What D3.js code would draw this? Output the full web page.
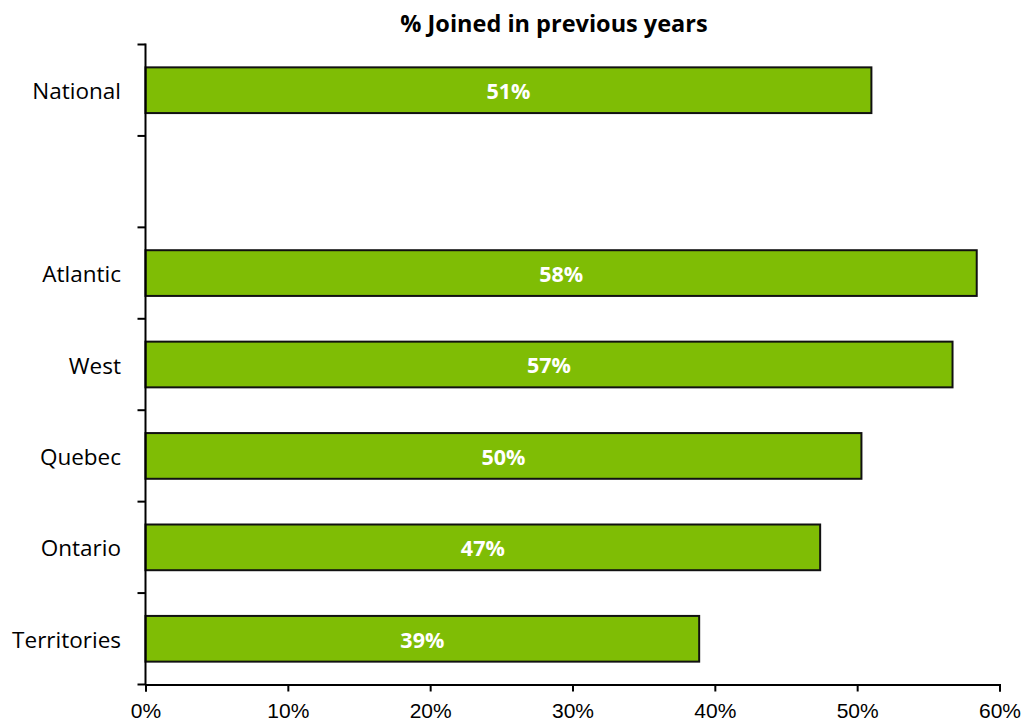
<!DOCTYPE html>
<html><head><meta charset="utf-8">
<script src="https://cdn.jsdelivr.net/npm/d3@7"></script>
<style>body{margin:0;background:#fff}</style>
</head><body>
<svg id="chart" width="1036" height="724"></svg>
<script>
const categories = ["National", "", "Atlantic", "West", "Quebec", "Ontario", "Territories"];
const values = [51.0, null, 58.4, 56.7, 50.3, 47.4, 38.9];
const labels = ["51%", "", "58%", "57%", "50%", "47%", "39%"];
const xTicks = [0, 10, 20, 30, 40, 50, 60];
const title = "% Joined in previous years";

const svg = d3.select("#chart");
const m = {left: 145.5, right: 999.5, top: 44.5, bottom: 684.5};
const x = d3.scaleLinear().domain([0, 60]).range([m.left, m.right]);
const y = d3.scaleBand().domain(categories.map((c, i) => i)).range([m.top, m.bottom]).paddingInner(0.5).paddingOuter(0.25);

const data = categories.map((c, i) => ({i, c, v: values[i], l: labels[i]})).filter(d => d.v != null);

svg.append("g").selectAll("rect").data(data).join("rect")
  .attr("x", x(0)).attr("y", d => y(d.i))
  .attr("width", d => x(d.v) - x(0)).attr("height", y.bandwidth())
  .attr("fill", "#7fbd05").attr("stroke", "#111").attr("stroke-width", 2);

svg.append("g").selectAll("text").data(data).join("text")
  .attr("x", d => (x(0) + x(d.v)) / 2).attr("y", d => y(d.i) + y.bandwidth() / 2 + 1)
  .attr("dy", "0.36em").attr("text-anchor", "middle")
  .attr("fill", "#fff").attr("font-family", "'Open Sans', sans-serif")
  .attr("font-weight", "bold").attr("font-size", 21.5).text(d => d.l);

// y axis
const yb = d3.scaleLinear().domain([0, categories.length]).range([m.top, m.bottom]);
const yAxis = svg.append("g");
yAxis.append("line").attr("x1", m.left).attr("x2", m.left).attr("y1", m.top - 1).attr("y2", m.bottom)
  .attr("stroke", "#000").attr("stroke-width", 2);
yAxis.selectAll("line.t").data(d3.range(categories.length + 1)).join("line").attr("class", "t")
  .attr("x1", m.left - 8).attr("x2", m.left).attr("y1", d => yb(d)).attr("y2", d => yb(d))
  .attr("stroke", "#000").attr("stroke-width", 2);
yAxis.selectAll("text").data(categories.map((c, i) => ({c, i}))).join("text")
  .attr("x", 121).attr("y", d => y(d.i) + y.bandwidth() / 2 + 1).attr("dy", "0.36em")
  .attr("text-anchor", "end").attr("font-family", "'Open Sans', sans-serif")
  .attr("font-size", 22.5).attr("fill", "#000").text(d => d.c);

// x axis
const xAxis = svg.append("g").attr("transform", `translate(0,${m.bottom})`)
  .call(d3.axisBottom(x).tickValues(xTicks).tickFormat(d => d + "%").tickSize(7).tickPadding(12));
xAxis.select(".domain").attr("stroke-width", 2);
xAxis.selectAll(".tick line").attr("stroke-width", 2);
xAxis.selectAll("text").attr("font-family", "'Liberation Sans', Arial, sans-serif").attr("font-size", 21).attr("fill", "#000");

svg.append("text").attr("x", 554).attr("y", 32).attr("text-anchor", "middle")
  .attr("font-family", "'Open Sans', sans-serif").attr("font-weight", "bold").attr("font-size", 23.5)
  .text(title);
</script>
</body></html>
